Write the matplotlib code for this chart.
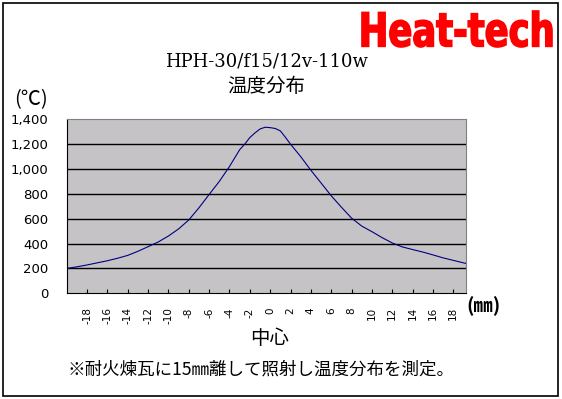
import matplotlib
matplotlib.use('Agg')
import matplotlib.pyplot as plt
from matplotlib.patches import Rectangle, PathPatch
from matplotlib.textpath import TextPath
from matplotlib.font_manager import FontProperties
from matplotlib.transforms import Affine2D
import numpy as np

# position (mm) and temperature (deg C)
pos_mm = [-20, -19, -18, -17, -16, -15, -14, -13, -12, -11, -10, -9, -8, -7, -6, -5,
          -4, -3, -2.5, -2, -1.5, -1, -0.5, 0, 0.5, 1, 1.5, 2, 3, 4, 5, 6, 7, 8, 9,
          10, 11, 12, 13, 14, 15, 16, 17, 18, 19, 19.25]
temp_c = [200, 213, 228, 245, 262, 282, 305, 338, 375, 413, 461, 518, 590, 688, 795, 900,
          1020, 1155, 1200, 1253, 1290, 1322, 1336, 1333, 1326, 1307, 1255, 1200, 1100, 990, 888, 785, 693, 605, 541,
          496, 448, 405, 373, 352, 332, 309, 285, 265, 245, 240]

xticks = list(range(-18, 19, 2))
yticks = list(range(0, 1401, 200))

title1 = 'HPH-30/f15/12v-110w'
title2 = '温度分布'
note = '※耐火煉瓦に15㎜離して照射し温度分布を測定。'
logo = 'Heat-tech'

jp = ['Noto Sans CJK JP', 'DejaVu Sans']

W, H = 562, 399
fig = plt.figure(figsize=(W/100, H/100), dpi=100)
fig.patch.set_facecolor('white')

def px(x, y):
    return x/W, 1 - y/H

# outer frame
fig.patches.append(Rectangle((3/W, 3/H), 555/W, 393/H, transform=fig.transFigure,
                             fill=False, edgecolor='black', linewidth=1.2))

ax = fig.add_axes([66.7/W, 1 - 293.3/H, 399.3/W, 174/H])
ax.set_facecolor('#C6C3C6')
ax.plot(pos_mm, temp_c, color='#000080', linewidth=0.8)
ax.set_xlim(-20, 19.25)
ax.set_ylim(0, 1400)
ax.set_yticks(yticks)
ax.set_yticklabels(['{:,}'.format(v) for v in yticks], fontsize=9.5)
ax.set_xticks(xticks)
ax.set_xticklabels([str(v) for v in xticks], rotation=90, fontsize=7.5, va='top')
ax.tick_params(axis='x', direction='in', length=3, pad=10, color='black')
ax.tick_params(axis='y', length=0, pad=13)
for v in yticks[1:-1]:
    ax.axhline(v, color='black', linewidth=1.0, zorder=1)
for s in ['top', 'right']:
    ax.spines[s].set_color('#808080')
for s in ['left', 'bottom']:
    ax.spines[s].set_color('black')

# logo: bold text squeezed into its box (x 361-553, y 10-48 px)
overlay = fig.add_axes([0, 0, 1, 1], facecolor='none')
overlay.set_xlim(0, W)
overlay.set_ylim(H, 0)
overlay.axis('off')
tp = TextPath((0, 0), logo, size=50, prop=FontProperties(family='DejaVu Sans', weight='bold'))
ext = tp.get_extents()
sx = (552 - 362) / ext.width
sy = (47 - 11) / ext.height
tr = Affine2D().translate(-ext.x0, -ext.y0).scale(sx, -sy).translate(362, 47)
overlay.add_patch(PathPatch(tr.transform_path(tp), facecolor='#FF0000',
                            edgecolor='#FF0000', linewidth=1.2))

# texts
fig.text(*px(266, 62), title1, family='DejaVu Serif', fontsize=13, ha='center', va='center')
fig.text(*px(266, 87), title2, family=jp, fontsize=14, ha='center', va='center')
fig.text(*px(31, 100), '(℃)', family=jp, fontsize=14.5, ha='center', va='center')
fig.text(*px(483, 306), '(㎜)', family=jp, fontsize=14, ha='center', va='center', fontweight='bold')
fig.text(*px(270, 338), '中心', family=jp, fontsize=14, ha='center', va='center')
fig.text(*px(68, 370), note, family=jp, fontsize=12.6, ha='left', va='center')

fig.savefig('out.png', dpi=100)
